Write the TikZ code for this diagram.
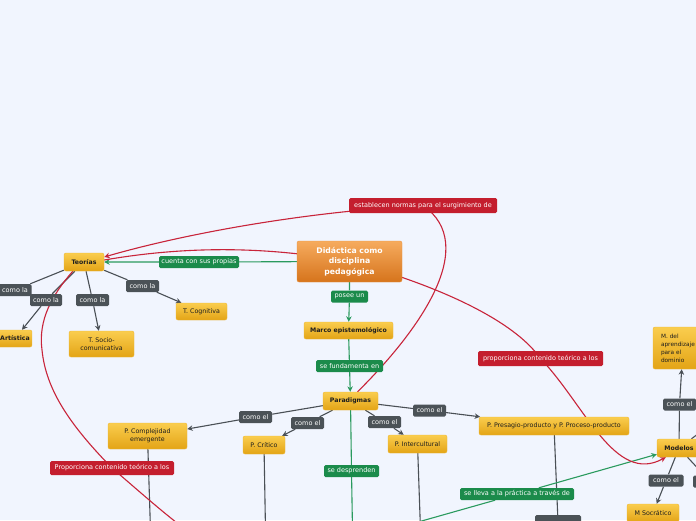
\documentclass[tikz,border=0pt]{standalone}
\usepackage{fontspec}
\setmainfont{DejaVu Sans}
\usetikzlibrary{arrows.meta,calc}
\definecolor{bgc}{HTML}{F1F5FE}
\definecolor{ytop}{HTML}{FACD4E}
\definecolor{ybot}{HTML}{E3A416}
\definecolor{yedge}{HTML}{EDB634}
\definecolor{otop}{HTML}{F6AB5E}
\definecolor{obot}{HTML}{D6741C}
\definecolor{oedge}{HTML}{E99545}
\definecolor{ink}{HTML}{1E1E1E}
\definecolor{dgray}{HTML}{4B5257}
\definecolor{glab}{HTML}{1B8B4B}
\definecolor{rlab}{HTML}{C41E2E}
\definecolor{gcol}{HTML}{4A5056}
\definecolor{gline}{HTML}{2A9A5E}
\definecolor{rline}{HTML}{C8243A}
\newcommand\myfs{\fontsize{6.3}{7.5}\selectfont}
\newcommand\mybfs{\fontsize{6.2}{7}\selectfont}
\newcommand\mylfs{\fontsize{6.5}{7.5}\selectfont}
\newcommand\mycfs{\fontsize{7.7}{10.5}\selectfont}
\pgfdeclarelayer{back}
\pgfdeclarelayer{bg}
\pgfsetlayers{back,bg,main}
\begin{document}
\begin{tikzpicture}[x=1pt,y=-1pt,
  ybox/.style={rounded corners=2pt, top color=ytop, bottom color=ybot, draw=yedge, line width=0.4pt, font=\myfs, text=ink, align=center, inner sep=1pt},
  bbox/.style={ybox, font=\mybfs\bfseries},
  lbl/.style={rounded corners=1.5pt, text=white, font=\mylfs, inner sep=1pt, minimum height=12pt},
  dlbl/.style={lbl, fill=dgray},
  glbl/.style={lbl, fill=glab},
  rlbl/.style={lbl, fill=rlab, minimum height=15pt},
  gl/.style={draw=gcol, line width=1.1pt},
  gln/.style={draw=gline, line width=1.1pt},
  rl/.style={draw=rline, line width=1.1pt},
  arr/.style={-{Stealth[length=5.5pt,width=5.5pt]}}]
\useasboundingbox (0,0) rectangle (696,520);
\begin{pgfonlayer}{back}
\fill[bgc] (0,0) rectangle (696,520);
\end{pgfonlayer}

% main nodes
\node[ybox, minimum width=105pt, minimum height=41pt, top color=otop, bottom color=obot, draw=oedge, text=white, font=\mycfs\bfseries] (central) at (349.5,261.5) {Didáctica como\\disciplina\\pedagógica};
\node[bbox, minimum width=40pt, minimum height=18pt] (teorias) at (84,262) {Teorías};
\node[ybox, minimum width=51pt, minimum height=17pt] (cognitiva) at (201.5,311.5) {T. Cognitiva};
\node[ybox, minimum width=65pt, minimum height=26pt] (socio) at (101.5,344) {T. Socio-\\comunicativa};
\node[bbox, minimum width=34pt, minimum height=17pt] (artistica) at (15,338.5) {Artística};
\node[bbox, minimum width=89pt, minimum height=17pt] (marco) at (348.5,330.5) {Marco epistemológico};
\node[bbox, minimum width=55pt, minimum height=18pt] (paradigmas) at (350.5,401) {Paradigmas};
\node[ybox, minimum width=79pt, minimum height=26pt] (complejidad) at (147.5,436) {P. Complejidad\\emergente};
\node[ybox, minimum width=42pt, minimum height=18pt] (critico) at (264,445) {P. Crítico};
\node[ybox, minimum width=59pt, minimum height=18pt] (intercultural) at (417.5,444) {P. Intercultural};
\node[ybox, minimum width=150pt, minimum height=18pt] (presagio) at (554,426) {P. Presagio-producto y P. Proceso-producto};
\node[ybox, minimum width=60pt, minimum height=42pt, align=left, text width=44pt, font=\fontsize{5.8}{8}\selectfont] (maprend) at (683,348) {M. del\\aprendizaje\\para el\\dominio};
\node[bbox, minimum width=44pt, minimum height=18pt] (modelos) at (679,448) {Modelos};
\node[ybox, minimum width=52pt, minimum height=18pt] (socratico) at (653,513) {M Socrático};

% dark labels
\node[dlbl, minimum width=33pt] (l1) at (15,290) {como la};
\node[dlbl, minimum width=32pt] (l2) at (46,300) {como la};
\node[dlbl, minimum width=33pt] (l3) at (92.5,300) {como la};
\node[dlbl, minimum width=33pt] (l4) at (142.5,286) {como la};
\node[dlbl, minimum width=33pt] (l5) at (255.5,417) {como el};
\node[dlbl, minimum width=33pt] (l6) at (307.5,423) {como el};
\node[dlbl, minimum width=33pt] (l7) at (384.5,422) {como el};
\node[dlbl, minimum width=33pt] (l8) at (429.5,410.5) {como el};
\node[dlbl, minimum width=33pt] (l9) at (679.5,404.5) {como el};
\node[dlbl, minimum width=35pt] (l10) at (666,480.5) {como el};
\node[dlbl, minimum width=34pt] (l11) at (710,481.5) {};
\node[dlbl, minimum width=46pt, minimum height=14pt] (l12) at (558,522) {};

% green labels
\node[glbl, minimum width=80pt] (g1) at (199,262) {cuenta con sus propias};
\node[glbl, minimum width=37pt] (g2) at (349.5,296.5) {posee un};
\node[glbl, minimum width=67pt] (g3) at (349.5,366) {se fundamenta en};
\node[glbl, minimum width=55pt] (g4) at (351.5,471) {se desprenden};
\node[glbl, minimum width=114pt] (g5) at (517,494) {se lleva a la práctica a través de};

% red labels
\node[rlbl, minimum width=148pt] (r1) at (423,205.5) {establecen normas para el surgimiento de};
\node[rlbl, minimum width=125pt] (r2) at (540.5,358.5) {proporciona contenido teórico a los};
\node[rlbl, minimum width=124pt, minimum height=14pt] (r3) at (112,468) {Proporciona contenido teórico a los};

% free ends
\coordinate (offL) at (-15,302);
\coordinate (offR) at (706,428);
\coordinate (offA) at (150.5,530);
\coordinate (offB) at (265.5,530);
\coordinate (offC) at (420.5,530);
\coordinate (offD) at (352.5,530);
\coordinate (offE) at (411,524);
\coordinate (offF) at (186,530);
\coordinate (cbend) at (42,350);

\begin{pgfonlayer}{bg}
% gray connectors
\draw[gl] (teorias) -- (l1) -- (offL);
\draw[gl, arr] (teorias) -- (l2) -- (artistica);
\draw[gl, arr] (teorias) -- (l3) -- (socio);
\draw[gl, arr] (teorias) -- (l4) -- (cognitiva);
\draw[gl, arr] (paradigmas) -- (l5) -- (complejidad);
\draw[gl, arr] (paradigmas) -- (l6) -- (critico);
\draw[gl, arr] (paradigmas) -- (l7) -- (intercultural);
\draw[gl, arr] (paradigmas) -- (l8) -- (presagio);
\draw[gl, arr] (modelos) -- (l9) -- (maprend);
\draw[gl, arr] (modelos) -- (l10) -- (socratico);
\draw[gl] (modelos) -- (l11);
\draw[gl] (modelos) -- (offR);
\draw[gl] (complejidad) -- (offA);
\draw[gl] (critico) -- (offB);
\draw[gl] (intercultural) -- (offC);
\draw[gl] (presagio) -- (l12);
% green connectors
\draw[gln, arr] (central) -- (g1) -- (teorias);
\draw[gln, arr] (central) -- (g2) -- (marco);
\draw[gln, arr] (marco) -- (g3) -- (paradigmas);
\draw[gln] (paradigmas) -- (g4) -- (offD);
\draw[gln, arr] (offE) -- (g5) -- (modelos);
% red connectors
\draw[rl] ($(paradigmas.north)+(7,0)$) .. controls (420,330) and (480,245) .. (r1.center);
\draw[rl, arr] (r1.center) .. controls (300,212) and (180,235) .. ($(teorias.east)+(0,-5)$);
\draw[rl, arr] ($(teorias.east)+(0,-2)$) .. controls (180,247) and (260,245) .. (central.center)
   .. controls (420,280) and (510,315) .. (r2.center)
   .. controls (585,405) and (615,485) .. ($(modelos.south west)+(9,0)$);
\draw[rl] ($(teorias.south west)+(9,0)$) .. controls (52,295) and (38,320) .. (cbend)
   .. controls (46,390) and (70,425) .. (r3.center)
   .. controls (140,492) and (160,510) .. (offF);
\end{pgfonlayer}
\end{tikzpicture}
\end{document}
